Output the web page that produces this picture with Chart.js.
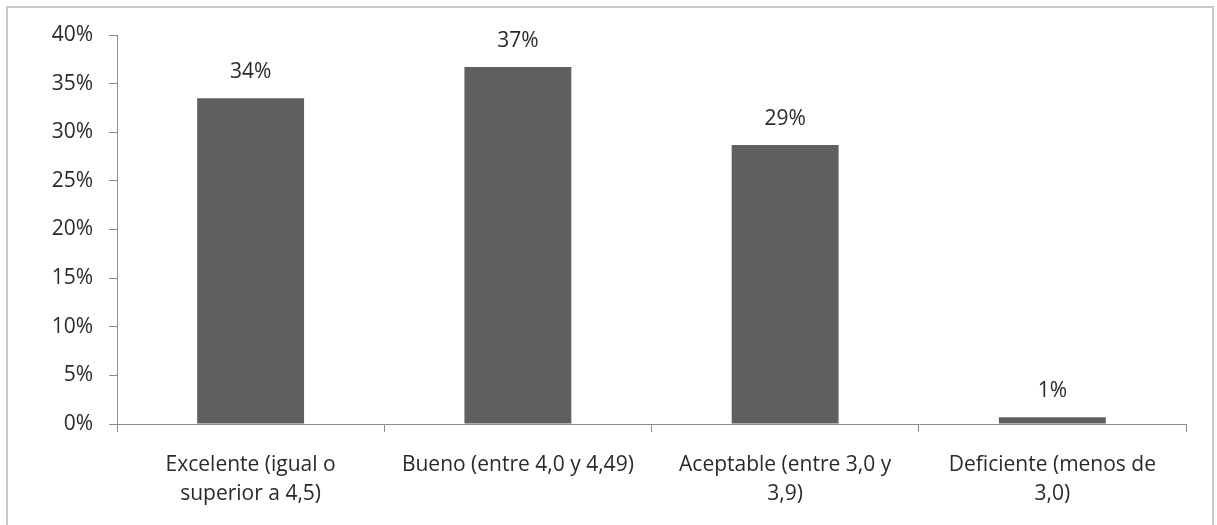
<!DOCTYPE html>
<html><head><meta charset="utf-8">
<script src="https://cdn.jsdelivr.net/npm/chart.js@4.4.0/dist/chart.umd.min.js"></script>
<style>html,body{margin:0;padding:0;background:#fff;}#wrap{position:absolute;left:0;top:0;width:1217px;height:525px;}</style>
</head><body>
<div id="wrap"><canvas id="c" width="1217" height="525"></canvas></div>
<script>
const categories = [["Excelente (igual o","superior a 4,5)"],["Bueno (entre 4,0 y 4,49)"],["Aceptable (entre 3,0 y","3,9)"],["Deficiente (menos de","3,0)"]];
const values = [33.5, 36.7, 28.7, 0.7];
const yTicks = [0,5,10,15,20,25,30,35,40];

const FONT = "'Open Sans', 'Noto Sans', sans-serif";
const TEXT = '#2a2a2a';
const FS = 21;

const borderPlugin = {
  id:'outerBorder',
  beforeDraw(chart){
    const ctx = chart.ctx;
    ctx.save();
    ctx.fillStyle='#fff';
    ctx.fillRect(0,0,chart.width,chart.height);
    ctx.strokeStyle='#c8c8c8';
    ctx.lineWidth=2;
    ctx.strokeRect(7,7,1206,530);
    ctx.restore();
  }
};
const labelPlugin = {
  id:'barLabels',
  afterDatasetsDraw(chart){
    const ctx = chart.ctx;
    const meta = chart.getDatasetMeta(0);
    ctx.save();
    ctx.font = FS + 'px ' + FONT;
    ctx.fillStyle = TEXT;
    ctx.textAlign='center';
    ctx.textBaseline='middle';
    meta.data.forEach((bar,i)=>{
      ctx.fillText(Math.round(values[i]) + '%', bar.x, bar.y - 26);
    });
    ctx.restore();
  }
};

new Chart(document.getElementById('c'), {
  type:'bar',
  data:{labels:categories, datasets:[{data:values, backgroundColor:'#5f5f5f', borderColor:'#5f5f5f', borderWidth:0, barPercentage:0.4, categoryPercentage:1.0}]},
  options:{
    responsive:false, animation:false, devicePixelRatio:1,
    layout:{padding:{top:35,right:31,left:0,bottom:0}},
    plugins:{legend:{display:false},tooltip:{enabled:false}},
    scales:{
      x:{
        offset:true,
        grid:{display:true, offset:true, drawOnChartArea:false, drawTicks:true, tickLength:8, color:'#8c8c8c', lineWidth:1},
        border:{display:true, color:'#8c8c8c', width:1},
        ticks:{color:TEXT, font:{family:FONT,size:FS,lineHeight:1.4}, padding:18, maxRotation:0, autoSkip:false},
        afterFit(s){ s.height = 101; }
      },
      y:{
        min:0,max:40,
        afterBuildTicks(s){ s.ticks = yTicks.map(v=>({value:v})); },
        grid:{display:true, drawOnChartArea:false, drawTicks:true, tickLength:8, color:'#8c8c8c'},
        border:{display:true, color:'#8c8c8c', width:1},
        ticks:{color:TEXT, font:{family:FONT,size:FS}, padding:16, callback:v=>v+'%'},
        afterFit(s){ s.width = 117; }
      }
    }
  },
  plugins:[borderPlugin,labelPlugin]
});
</script>
</body></html>
